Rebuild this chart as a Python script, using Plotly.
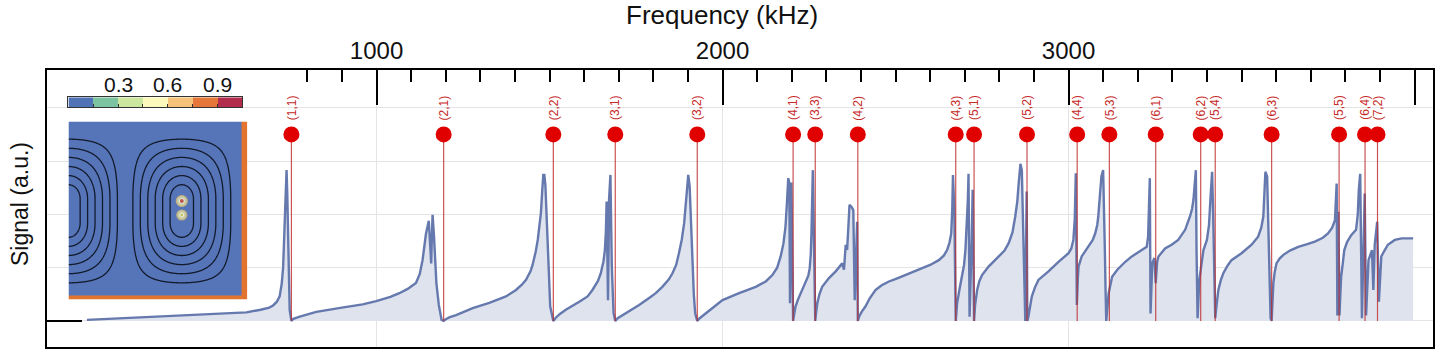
import numpy as np
import plotly.graph_objects as go

# ---------------- data ----------------
freq_khz = [163, 431, 560, 624, 665, 690, 701, 712, 720, 726, 730, 732, 735, 737, 740, 742, 744, 749, 754,
            760, 778, 826, 900, 960, 999, 1040, 1066, 1090, 1114, 1125, 1133, 1139, 1143, 1151, 1155, 1158,
            1160, 1162, 1166, 1173, 1180, 1188, 1194,
            1200, 1212, 1230, 1278, 1326, 1374, 1403, 1420, 1432, 1445, 1451, 1460, 1466, 1471, 1475, 1479,
            1482, 1485, 1488, 1492, 1496, 1502, 1511,
            1518, 1530, 1547, 1586, 1610, 1624, 1640, 1648, 1656, 1660, 1663, 1665, 1667, 1669, 1671, 1672,
            1676, 1678, 1680, 1685, 1690,
            1697, 1707, 1721, 1759, 1790, 1807, 1826, 1845, 1855, 1866, 1874, 1882, 1889, 1893, 1896, 1901,
            1905, 1909, 1913, 1917, 1921, 1927,
            1934, 1952, 1975, 2000, 2048, 2096, 2125, 2144, 2158, 2168, 2176, 2182, 2186, 2190, 2193, 2195,
            2199, 2201, 2204,
            2207, 2211, 2218, 2226, 2240, 2248, 2252, 2255, 2257, 2259, 2261, 2263, 2264, 2266, 2268,
            2271, 2274, 2280, 2288, 2307, 2327, 2346, 2351, 2356, 2360, 2364, 2367, 2373, 2378, 2382, 2389, 2391,
            2396, 2403, 2413, 2425, 2442, 2460, 2481, 2505, 2529, 2553, 2577, 2600, 2625, 2640, 2649, 2656,
            2661, 2664, 2666, 2668, 2670, 2672, 2674,
            2676, 2678, 2685, 2692, 2698, 2702, 2706, 2709, 2711, 2714, 2720, 2723, 2725, 2727,
            2730, 2736, 2742, 2750, 2769, 2798, 2815, 2827, 2838, 2846, 2852, 2856, 2861, 2865, 2868, 2871,
            2875, 2879, 2881,
            2884, 2888, 2894, 2903, 2913, 2942, 2971, 3000, 3008, 3014, 3018, 3021, 3024,
            3027, 3029, 3038, 3057, 3070, 3077, 3083, 3086, 3091, 3095, 3100, 3103, 3105, 3107, 3109, 3116,
            3121, 3126, 3141, 3164, 3183, 3211, 3226, 3230, 3233, 3235, 3237, 3242, 3248, 3252,
            3256, 3260, 3279, 3298, 3317, 3337, 3351, 3357, 3361, 3365, 3368, 3370, 3373, 3378,
            3385, 3390, 3400, 3406, 3410, 3415, 3418, 3420, 3424,
            3428, 3433, 3440, 3447, 3460, 3471, 3500, 3529, 3548, 3557, 3563, 3566, 3569, 3574, 3577, 3579,
            3584, 3587,
            3589, 3592, 3596, 3601, 3610, 3621, 3640, 3664, 3690, 3712, 3735, 3750, 3762, 3770, 3775, 3777,
            3780, 3783,
            3786, 3788, 3793, 3797, 3805, 3817, 3831, 3836, 3839, 3843, 3848, 3852, 3856, 3860,
            3867, 3877, 3881, 3885, 3892, 3897,
            3904, 3914, 3923, 3943, 3963, 3982, 3996]

signal = [0.02, 0.10, 0.14, 0.16, 0.21, 0.25, 0.29, 0.36, 0.46, 0.70, 1.00, 1.33, 2.00, 2.40, 2.83, 2.40, 1.64, 0.20, 0.00,
          0.04, 0.08, 0.17, 0.25, 0.31, 0.37, 0.45, 0.52, 0.60, 0.71, 0.88, 1.14, 1.40, 1.64, 1.88, 1.50, 1.08,
          1.60, 1.99, 1.60, 0.71, 0.30, 0.02, 0.00,
          0.03, 0.07, 0.11, 0.24, 0.34, 0.46, 0.58, 0.68, 0.77, 0.93, 1.05, 1.30, 1.52, 1.80, 2.02, 2.45,
          2.74, 2.74, 2.55, 1.90, 1.20, 0.27, 0.00,
          0.06, 0.13, 0.21, 0.36, 0.46, 0.58, 0.75, 0.89, 1.12, 1.33, 1.70, 2.24, 1.20, 0.39, 1.50, 2.27,
          2.74, 2.00, 1.02, 0.15, 0.00,
          0.05, 0.09, 0.14, 0.30, 0.44, 0.52, 0.64, 0.78, 0.89, 1.05, 1.27, 1.52, 1.83, 2.15, 2.46, 2.74,
          2.52, 1.80, 1.02, 0.50, 0.14, 0.00,
          0.05, 0.14, 0.27, 0.39, 0.52, 0.64, 0.74, 0.86, 1.00, 1.21, 1.45, 1.77, 2.20, 2.68, 2.59, 0.33,
          2.60, 1.20, 0.00,
          0.12, 0.27, 0.40, 0.52, 0.71, 0.85, 0.99, 1.25, 1.64, 2.20, 2.83, 2.00, 1.33, 0.50, 0.00,
          0.18, 0.33, 0.50, 0.64, 0.80, 0.93, 1.08, 0.96, 1.43, 1.33, 1.80, 2.18, 2.14, 2.08, 0.39, 1.86, 0.00,
          0.10, 0.18, 0.27, 0.42, 0.58, 0.67, 0.74, 0.80, 0.86, 0.92, 0.99, 1.05, 1.14, 1.23, 1.33, 1.47,
          1.64, 2.10, 2.74, 2.50, 2.08, 1.00, 0.00,
          0.15, 0.33, 0.60, 0.83, 1.05, 1.33, 1.75, 2.27, 2.76, 0.08, 1.50, 2.46, 1.20, 0.00,
          0.30, 0.58, 0.74, 0.86, 1.02, 1.21, 1.32, 1.46, 1.66, 1.96, 2.25, 2.58, 2.95, 2.83, 2.00, 1.02,
          0.00, 2.43, 0.00,
          0.08, 0.25, 0.46, 0.63, 0.77, 0.93, 1.11, 1.27, 1.36, 1.52, 1.90, 2.77, 0.30,
          0.80, 1.02, 1.21, 1.39, 1.52, 1.64, 1.80, 1.96, 2.35, 2.71, 2.83, 2.20, 1.33, 0.60, 0.00, 0.52,
          0.70, 0.83, 0.96, 1.11, 1.21, 1.33, 1.39, 1.58, 2.10, 2.68, 0.14, 1.08, 1.18, 0.71,
          1.10, 1.21, 1.36, 1.43, 1.52, 1.71, 1.96, 2.10, 2.27, 2.55, 2.83, 1.33, 0.05, 0.77,
          1.08, 1.33, 1.52, 1.80, 2.27, 2.80, 2.00, 1.33, 0.05,
          0.30, 0.58, 0.76, 0.89, 1.04, 1.14, 1.27, 1.43, 1.58, 1.75, 1.96, 2.30, 2.80, 2.71, 2.00, 1.33,
          0.05, 0.00,
          0.35, 0.71, 0.92, 1.08, 1.17, 1.24, 1.32, 1.39, 1.44, 1.49, 1.56, 1.64, 1.75, 1.89, 2.58, 0.10,
          2.05, 0.10,
          0.55, 0.83, 1.10, 1.33, 1.48, 1.61, 1.71, 2.00, 2.46, 2.76, 0.05, 1.08, 2.39, 0.10,
          1.14, 1.33, 0.58, 1.43, 1.86, 0.36,
          1.21, 1.33, 1.43, 1.52, 1.55, 1.55, 1.55]

mode_labels = ["(1,1)", "(2,1)", "(2,2)", "(3,1)", "(3,2)", "(4,1)", "(3,3)", "(4,2)",
               "(4,3)", "(5,1)", "(5,2)", "(4,4)", "(5,3)", "(6,1)", "(6,2)", "(5,4)",
               "(6,3)", "(5,5)", "(6,4)", "(7,2)"]
mode_freq_khz = [754, 1194, 1511, 1690, 1927, 2204, 2268, 2391, 2674, 2727, 2880,
                 3025, 3118, 3252, 3382, 3424, 3587, 3782, 3857, 3893]
marker_level = 3.5
label_level = 4.0

major_ticks = [1000, 2000, 3000, 4000]
major_tick_text = ["1000", "2000", "3000", ""]
minor_ticks = [800, 900] + [v for v in range(1100, 4000, 100) if v % 1000 != 0]
grid_x = [1000, 2000, 3000]
grid_y = [0, 1, 2, 3, 4]

x_range = [47.6, 4053.4]
y_range = [-0.49, 4.71]

colorbar_bounds = [0, 0.15, 0.30, 0.45, 0.60, 0.75, 0.90, 1.05]
colorbar_values = [0, 1, 2, 3, 4, 5, 6]
colorbar_colors = ["#5073b8", "#7cc3a2", "#cbe69f", "#fbf9bc", "#f5c27a", "#e6773a", "#b22d4b"]
colorbar_label_vals = [0.3, 0.6, 0.9]
colorbar_label_text = ["0.3", "0.6", "0.9"]

FONT = "Liberation Sans, Arial, Helvetica, sans-serif"
LINE_BLUE = "#6579ae"
FILL_BLUE = "#dfe3ee"

fig = go.Figure()

# signal with filled area
fig.add_trace(go.Scatter(x=freq_khz, y=signal, mode="lines",
                         line=dict(color=LINE_BLUE, width=2.4),
                         fill="tozeroy", fillcolor=FILL_BLUE,
                         hoverinfo="skip", showlegend=False))

# red stems for the modes
sx, sy = [], []
for f in mode_freq_khz:
    sx += [f, f, None]
    sy += [0, marker_level, None]
fig.add_trace(go.Scatter(x=sx, y=sy, mode="lines",
                         line=dict(color="rgba(190,40,40,0.8)", width=1.2),
                         hoverinfo="skip", showlegend=False))
fig.add_trace(go.Scatter(x=mode_freq_khz, y=[marker_level] * len(mode_freq_khz),
                         mode="markers", marker=dict(size=16, color="#e00000"),
                         hoverinfo="skip", showlegend=False))

# helper (invisible) trace so that the overlay axes exist
fig.add_trace(go.Scatter(x=[1000], y=[0], xaxis="x2", yaxis="y2", mode="markers",
                         marker=dict(opacity=0), hoverinfo="skip", showlegend=False))

# ---------------- inset: field picture ----------------
inset_w, inset_h = 179.0, 178.0
blue_w, orange_h = 173.5, 4.5
fig.add_trace(go.Heatmap(x=[0, blue_w, inset_w], y=[0, orange_h, inset_h],
                         z=[[1, 1], [0, 1]], zmin=0, zmax=1,
                         colorscale=[[0, "#5675b9"], [1, "#e2742f"]],
                         showscale=False, hoverinfo="skip", xaxis="x3", yaxis="y3"))

gx = np.linspace(0, blue_w, 320)
gy = np.linspace(orange_h, inset_h, 320)
X, Y = np.meshgrid(gx, gy)
period = 113.5
yc = 88.5
dy = np.maximum(np.abs(Y - yc) - 12.0, 0.0)
psi = np.abs(np.cos(np.pi * X / period)) * np.cos(np.minimum(np.pi * dy / 138.6, np.pi / 2))
phi = period / np.pi * np.arccos(np.clip(psi, 0, 1))
fig.add_trace(go.Contour(x=gx, y=gy, z=phi, showscale=False, hoverinfo="skip",
                         contours=dict(coloring="none", start=11.7, end=49.1, size=7.46),
                         line=dict(color="#121a2c", width=1.3),
                         xaxis="x3", yaxis="y3"))
fig.add_trace(go.Scatter(x=[113.5, 113.5], y=[98.5, 84.5], mode="markers",
                         marker=dict(size=[11, 10], color="#f6f19a",
                                     line=dict(color="#ebc56a", width=1.2)),
                         hoverinfo="skip", showlegend=False, xaxis="x3", yaxis="y3"))
fig.add_trace(go.Scatter(x=[113.5, 113.5], y=[98.5, 84.5], mode="markers",
                         marker=dict(size=[5, 4], color=["#b52a2a", "#c9c24a"]),
                         hoverinfo="skip", showlegend=False, xaxis="x3", yaxis="y3"))

# ---------------- inset: colour bar ----------------
fig.add_trace(go.Heatmap(x=colorbar_bounds, y=[0, 1], z=[colorbar_values],
                         zmin=0, zmax=6,
                         colorscale=[[i / 6, c] for i, c in enumerate(colorbar_colors)],
                         showscale=False, hoverinfo="skip", xaxis="x4", yaxis="y4"))

annotations = []
for lab, f in zip(mode_labels, mode_freq_khz):
    annotations.append(dict(x=f, y=label_level, xref="x", yref="y", text=lab,
                            textangle=-90, showarrow=False,
                            font=dict(family=FONT, size=12, color="#c62a2a")))
for v, t in zip(colorbar_label_vals, colorbar_label_text):
    annotations.append(dict(x=v, y=1, xref="x4", yref="y4", text=t, showarrow=False,
                            yanchor="bottom", xanchor="center", yshift=-1,
                            font=dict(family=FONT, size=21, color="#111111")))
annotations.append(dict(x=0.487, y=1.1986, xref="paper", yref="paper",
                        text="Frequency (kHz)", showarrow=False,
                        xanchor="center", yanchor="middle",
                        font=dict(family=FONT, size=26, color="#111111")))
annotations.append(dict(x=-0.0195, y=0.516, xref="paper", yref="paper",
                        text="Signal (a.u.)", showarrow=False, textangle=-90,
                        xanchor="center", yanchor="middle",
                        font=dict(family=FONT, size=23, color="#111111")))

W, H = 1440, 354
L, R, T, B = 47, 5, 70, 7
pw, ph = W - L - R, H - T - B


def px_x(p):
    return (p - L) / pw


def px_y(p):
    return (H - B - p) / ph


fig.update_layout(
    width=W, height=H,
    margin=dict(l=L, r=R, t=T, b=B),
    paper_bgcolor="white", plot_bgcolor="white",
    showlegend=False,
    font=dict(family=FONT, color="#111111"),
    annotations=annotations,
    xaxis=dict(domain=[0, 1], range=x_range, tickvals=grid_x, showticklabels=False,
               ticks="", showgrid=True, gridcolor="#e4e4e4", gridwidth=1,
               zeroline=False, showline=True, mirror=True, linecolor="black",
               linewidth=2, fixedrange=True),
    yaxis=dict(domain=[0, 1], range=y_range, tickvals=grid_y, showticklabels=False,
               ticks="", showgrid=True, gridcolor="#e4e4e4", gridwidth=1,
               zeroline=False, showline=True, mirror=True, linecolor="black",
               linewidth=2, fixedrange=True),
    xaxis2=dict(overlaying="x", side="top", anchor="y2", range=x_range,
                tickvals=major_ticks, ticktext=major_tick_text,
                ticks="inside", ticklen=35, tickwidth=2, tickcolor="black",
                tickfont=dict(family=FONT, size=24, color="#111111"),
                ticklabelstandoff=5,
                showgrid=False, zeroline=False, showline=False,
                minor=dict(tickvals=minor_ticks, ticks="inside", ticklen=12,
                           tickwidth=2, tickcolor="black", showgrid=False),
                fixedrange=True),
    yaxis2=dict(overlaying="y", side="left", anchor="x2", range=y_range,
                tickvals=[0], ticks="inside", ticklen=35, tickwidth=2,
                tickcolor="black", showticklabels=False, showgrid=False,
                zeroline=False, showline=False, fixedrange=True),
    xaxis3=dict(domain=[px_x(68.5), px_x(247.5)], anchor="y3", range=[0, inset_w],
                visible=False, fixedrange=True),
    yaxis3=dict(domain=[px_y(299.5), px_y(121.5)], anchor="x3", range=[0, inset_h],
                visible=False, fixedrange=True),
    xaxis4=dict(domain=[px_x(68.5), px_x(242.5)], anchor="y4", range=[0, 1.05],
                tickvals=colorbar_bounds[1:-1], ticks="inside", ticklen=3, tickwidth=1,
                tickcolor="#333333", showticklabels=False, showgrid=False,
                zeroline=False, showline=True, mirror=True, linecolor="#333333",
                linewidth=1, fixedrange=True),
    yaxis4=dict(domain=[px_y(107.3), px_y(97.3)], anchor="x4", range=[0, 1],
                showticklabels=False, ticks="", showgrid=False, zeroline=False,
                showline=True, mirror=True, linecolor="#333333", linewidth=1,
                fixedrange=True),
)

fig.write_html("out.html")
